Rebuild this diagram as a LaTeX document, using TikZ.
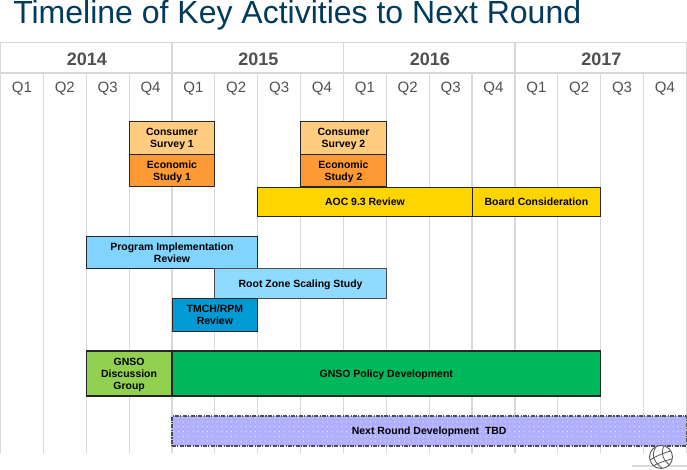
\documentclass[tikz,border=0pt]{standalone}
\usepackage{fontspec}
\setmainfont{Liberation Sans}
\usepackage{xcolor}
\definecolor{tltitle}{RGB}{0,58,93}
\definecolor{tlgrid}{RGB}{216,216,216}
\definecolor{tltext}{RGB}{80,80,80}
\definecolor{tlsurvey}{RGB}{255,204,128}
\definecolor{tlstudy}{RGB}{255,153,51}
\definecolor{tlreview}{RGB}{255,213,0}
\definecolor{tlprogram}{RGB}{128,212,255}
\definecolor{tlscaling}{RGB}{143,219,255}
\definecolor{tltmch}{RGB}{0,155,213}
\definecolor{tlgroup}{RGB}{146,208,80}
\definecolor{tlpolicy}{RGB}{0,184,92}
\definecolor{tlnext}{RGB}{176,176,255}
\usetikzlibrary{patterns.meta}

\begin{document}
\begin{tikzpicture}[
  x=0.75pt, y=-0.75pt,
  qspan/.style={minimum width=#1*32.15pt},
  qtall/.style={minimum height=#1*0.75pt},
  bar/.style={rectangle, draw=black!85, line width=0.8pt, inner sep=0pt, text depth=0pt,
              font=\fontsize{7.85pt}{9pt}\selectfont\bfseries, align=center, text=black},
  yearlbl/.style={font=\fontsize{13.5pt}{15pt}\selectfont\bfseries, text=tltext},
  qlbl/.style={font=\fontsize{11.25pt}{13pt}\selectfont, text=tltext},
  gridln/.style={draw=tlgrid, line width=0.9pt},
  yearln/.style={draw=tlgrid, line width=1.2pt}
]
\useasboundingbox (0,0) rectangle (687,470);

% Title
\node[anchor=base west, inner sep=0pt, text=tltitle, font=\fontsize{24pt}{28pt}\selectfont] (title) at (13,24) {Timeline of Key Activities to Next Round};

% Grid
\foreach \q in {1,2,3,5,6,7,9,10,11,13,14,15}
  \draw[gridln] ({0.5+42.87*\q},73) -- ({0.5+42.87*\q},453);
\foreach \q in {0,4,8,12,16}
  \draw[yearln] ({0.5+42.87*\q},42.5) -- ({0.5+42.87*\q},453);
\draw[yearln] (0.5,42.5) -- (686.4,42.5);
\draw[gridln] (0.5,73) -- (686.4,73);

% Year and quarter labels
\foreach \yr [count=\n from 0] in {2014,2015,2016,2017}
  \node[yearlbl] (y\yr) at ({86.9+171.48*\n},59) {\yr};
\foreach \q [count=\n from 0] in {1,2,3,4,1,2,3,4,1,2,3,4,1,2,3,4}
  \node[qlbl] (q\n) at ({21.9+42.87*\n},89) {Q\q};

% Surveys and studies
\node[bar, qspan=2, qtall=32.5, fill=tlsurvey] (survey1) at (172,138.2) {Consumer\\Survey 1};
\node[bar, qspan=2, qtall=32.5, fill=tlstudy]  (study1)  at (172,170.7) {Economic\\Study 1};
\node[bar, qspan=2, qtall=32.5, fill=tlsurvey] (survey2) at (343.5,138.2) {Consumer\\Survey 2};
\node[bar, qspan=2, qtall=32.5, fill=tlstudy]  (study2)  at (343.5,170.7) {Economic\\Study 2};

% Reviews
\node[bar, qspan=5, qtall=29.5, fill=tlreview] (aoc)   at (364.9,201.8) {AOC 9.3 Review};
\node[bar, qspan=3, qtall=29.5, fill=tlreview] (board) at (536.4,201.8) {Board Consideration};
\node[bar, qspan=4, qtall=32.3, fill=tlprogram] (program) at (172,252.8) {Program Implementation\\Review};
\node[bar, qspan=4, qtall=29.3, fill=tlscaling, draw=black!70] (scaling) at (300.6,283.6) {Root Zone Scaling Study};
\node[bar, qspan=2, qtall=33.2, fill=tltmch] (tmch) at (214.9,314.9) {TMCH/RPM\\Review};

% GNSO
\node[bar, qspan=2, qtall=45, fill=tlgroup] (group) at (129.1,373.5) {GNSO\\Discussion\\Group};
\node[bar, qspan=10, qtall=45, fill=tlpolicy] (policy) at (386.3,373.5) {GNSO Policy Development};

% Next round
\node[bar, qspan=12, qtall=30, draw=black!70, densely dashdotted,
      preaction={fill=tlnext},
      preaction={pattern={Dots[distance=3.6pt,radius=0.35pt,xshift=0.8pt]}, pattern color=white}] (next) at (429.2,431) {Next Round Development\ \ TBD};

% Globe
\draw[draw=tlgrid, line width=0.9pt] (632,466) -- (687,466);
\draw[black!65, line width=0.7pt, fill=white] (661,457) circle[radius=11.5];
\draw[black!65, line width=0.6pt] (650,460) .. controls (658,455) and (666,452) .. (671,451)
  (653,466) .. controls (660,462) and (668,460) .. (672,459)
  (656,447) .. controls (650,455) and (655,463) .. (662,468)
  (664,446) .. controls (660,453) and (664,462) .. (670,465);
\end{tikzpicture}
\end{document}
